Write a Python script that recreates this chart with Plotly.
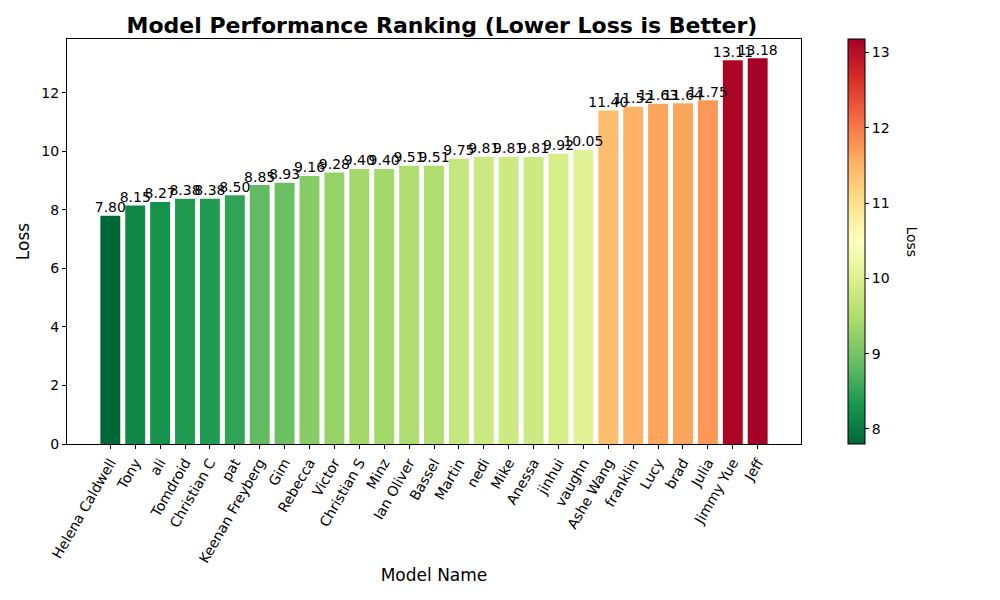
import plotly.graph_objects as go

# model names and their loss values, sorted best to worst
models = ["Helena Caldwell", "Tony", "ali", "Tomdroid", "Christian C", "pat",
          "Keenan Freyberg", "Gim", "Rebecca", "Victor", "Christian S", "Minz",
          "Ian Oliver", "Bassel", "Martin", "nedi", "Mike", "Anessa", "jinhui",
          "vaughn", "Ashe Wang", "franklin", "Lucy", "brad", "Julia",
          "Jimmy Yue", "Jeff"]
losses = [7.80, 8.15, 8.27, 8.38, 8.38, 8.50, 8.85, 8.93, 9.16, 9.28, 9.40,
          9.40, 9.51, 9.51, 9.75, 9.81, 9.81, 9.81, 9.92, 10.05, 11.40, 11.52,
          11.63, 11.64, 11.75, 13.11, 13.18]

FONT = "DejaVu Sans"
xs = list(range(len(models)))

fig = go.Figure()
fig.add_trace(go.Bar(
    x=xs,
    y=losses,
    width=0.8,
    marker=dict(
        color=losses,
        colorscale="RdYlGn_r",
        cmin=min(losses),
        cmax=max(losses),
        line=dict(width=0),
        showscale=True,
        colorbar=dict(
            x=1.064, xanchor="left", xref="paper",
            y=0.5, yanchor="middle", len=1.0, lenmode="fraction",
            thickness=17, xpad=0, ypad=0,
            outlinecolor="black", outlinewidth=1,
            ticks="outside", ticklen=4, tickcolor="black",
            tickvals=[8, 9, 10, 11, 12, 13],
            tickfont=dict(family=FONT, size=14, color="black"),
        ),
    ),
    hoverinfo="x+y",
))
# value labels above each bar
fig.add_trace(go.Scatter(
    x=xs,
    y=losses,
    mode="text",
    text=[f"{v:.2f}" for v in losses],
    textposition="top center",
    textfont=dict(family=FONT, size=14, color="black"),
    cliponaxis=False,
    hoverinfo="skip",
))

# the page body adds 8px, so margins are shifted to compensate
fig.update_layout(
    width=1000, height=600,
    margin=dict(l=59, r=207, t=31, b=164),
    plot_bgcolor="white", paper_bgcolor="white",
    showlegend=False,
    font=dict(family=FONT, size=14, color="black"),
    title=dict(text="<b>Model Performance Ranking (Lower Loss is Better)</b>",
               x=0.434, xanchor="center", y=0.972, yanchor="middle",
               font=dict(family=FONT, size=22, color="black")),
    annotations=[
        dict(text="Loss", textangle=90, xref="paper", yref="paper",
             x=1.165, y=0.5, showarrow=False,
             font=dict(family=FONT, size=14, color="black")),
    ],
)

fig.update_xaxes(
    range=[-1.74, len(models) - 1 + 1.74],
    tickmode="array",
    tickvals=xs,
    ticktext=models,
    tickangle=-60,
    automargin=False,
    ticks="outside", ticklen=4, tickcolor="black",
    showline=True, linecolor="black", linewidth=1, mirror=True,
    showgrid=False, zeroline=False,
    tickfont=dict(family=FONT, size=14, color="black"),
    title=dict(text="Model Name", font=dict(family=FONT, size=17, color="black"),
               standoff=4),
)
fig.update_yaxes(
    range=[0, max(losses) * 1.05],
    tickvals=[0, 2, 4, 6, 8, 10, 12],
    automargin=False,
    ticks="outside", ticklen=4, tickcolor="black",
    showline=True, linecolor="black", linewidth=1, mirror=True,
    showgrid=False, zeroline=False,
    tickfont=dict(family=FONT, size=14, color="black"),
    title=dict(text="Loss", font=dict(family=FONT, size=17, color="black"),
               standoff=7),
)

fig.write_html("out.html")
